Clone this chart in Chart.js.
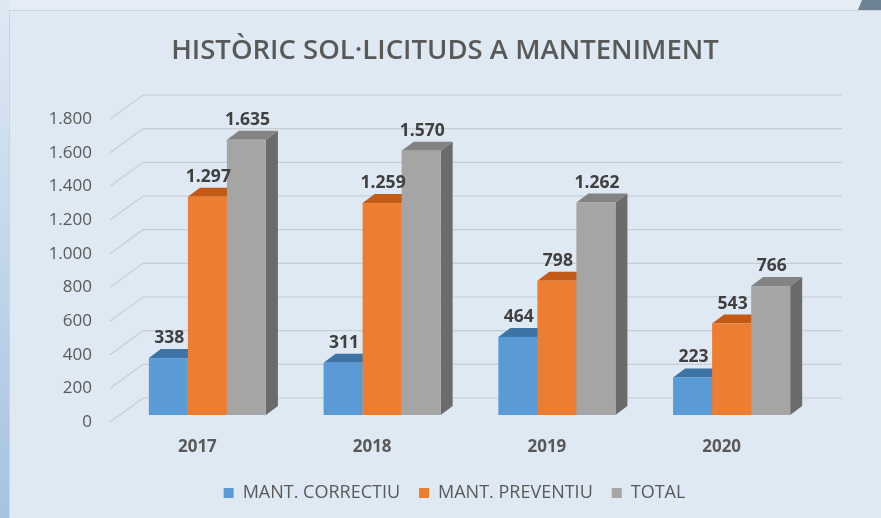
<!DOCTYPE html>
<html><head><meta charset="utf-8">
<script src="https://cdn.jsdelivr.net/npm/chart.js@4.4.0/dist/chart.umd.min.js"></script>
<style>
html,body{margin:0;padding:0;width:881px;height:518px;overflow:hidden;background:#e4edf6;}
#strip{position:absolute;left:0;top:0;width:9px;height:518px;background:linear-gradient(#dfe9f4,#a6c3e0);}
#frame{position:absolute;left:9px;top:10px;width:872px;height:508px;background:#dee9f4;border-left:1px solid #cbd3dc;border-top:1px solid #cbd3dc;box-sizing:border-box;}
#corner{position:absolute;left:853px;top:0;width:28px;height:10px;background:#6e8296;clip-path:polygon(9px 0,28px 0,28px 10px,5px 10px);}
canvas{position:absolute;left:0;top:0;}
</style></head><body>
<div id="strip"></div><div id="frame"></div><div id="corner"></div>
<canvas id="c" width="881" height="518"></canvas>
<script>
const TITLE = 'HISTÒRIC SOL·LICITUDS A MANTENIMENT';
const years = ['2017', '2018', '2019', '2020'];
const seriesNames = ['MANT. CORRECTIU', 'MANT. PREVENTIU', 'TOTAL'];
const correctiu = [338, 311, 464, 223];
const preventiu = [1297, 1259, 798, 543];
const total = [1635, 1570, 1262, 766];
const yMax = 1800;
const yStep = 200;

function fmt(v){ return String(v).replace(/\B(?=(\d{3})+(?!\d))/g, '.'); }

const DX = 12, DY = 9;
const faces = [
  {front:'#5b9bd5', top:'#3e73a6', side:'#35638f'},
  {front:'#ed7d31', top:'#c35a16', side:'#a84d12'},
  {front:'#a5a5a5', top:'#838383', side:'#6b6b6b'}
];

const bars3d = {
  id:'bars3d',
  beforeDatasetsDraw(chart){
    const {ctx, chartArea:a, scales:{x, y}} = chart;
    ctx.save();
    ctx.strokeStyle = '#c6cdd5'; ctx.lineWidth = 1.2;
    y.ticks.forEach(t => {
      const py = y.getPixelForValue(t.value);
      ctx.beginPath();
      ctx.moveTo(a.left - 10, py + 7);
      ctx.lineTo(a.left + 23, py - 17);
      ctx.lineTo(a.right + 23, py - 17);
      ctx.stroke();
    });
    const metas = chart.data.datasets.map((d, i) => chart.getDatasetMeta(i));
    for (let j = 0; j < years.length; j++) {
      metas.forEach((m, i) => {
        const b = m.data[j];
        const L = b.x - b.width / 2, R = b.x + b.width / 2, T = b.y, B = b.base;
        const c = faces[i];
        ctx.fillStyle = c.side;
        ctx.beginPath(); ctx.moveTo(R, T); ctx.lineTo(R + DX, T - DY); ctx.lineTo(R + DX, B - DY); ctx.lineTo(R, B); ctx.closePath(); ctx.fill();
        ctx.fillStyle = c.top;
        ctx.beginPath(); ctx.moveTo(L, T); ctx.lineTo(L + DX, T - DY); ctx.lineTo(R + DX, T - DY); ctx.lineTo(R, T); ctx.closePath(); ctx.fill();
        ctx.fillStyle = c.front;
        ctx.fillRect(L, T, R - L, B - T);
      });
    }
    ctx.fillStyle = '#404040';
    ctx.font = 'bold 17.5px "Open Sans"';
    ctx.textAlign = 'center'; ctx.textBaseline = 'middle';
    metas.forEach((m, i) => {
      m.data.forEach((b, j) => {
        ctx.fillText(fmt(chart.data.datasets[i].data[j]), b.x + 1, b.y - 20);
      });
    });
    ctx.restore();
    return false;
  }
};

const titlePlugin = {
  id:'titleText',
  afterDraw(chart){
    const ctx = chart.ctx;
    ctx.save();
    ctx.fillStyle = '#595959';
    ctx.font = '600 27.5px "Open Sans"';
    ctx.textAlign = 'center'; ctx.textBaseline = 'middle';
    ctx.fillText(TITLE, 445, 51);
    ctx.restore();
  }
};

new Chart(document.getElementById('c'), {
  type:'bar',
  data:{
    labels: years,
    datasets:[
      {label: seriesNames[0], data: correctiu, backgroundColor:'#5b9bd5'},
      {label: seriesNames[1], data: preventiu, backgroundColor:'#ed7d31'},
      {label: seriesNames[2], data: total, backgroundColor:'#a5a5a5'}
    ]
  },
  options:{
    responsive:false, animation:false,
    layout:{padding:{left:28, right:0, top:112, bottom:6}},
    datasets:{bar:{categoryPercentage:0.67, barPercentage:1}},
    plugins:{
      title:{display:false},
      tooltip:{enabled:false},
      legend:{position:'bottom', labels:{boxWidth:10, boxHeight:10, padding:19, color:'#595959', font:{family:'"Open Sans"', size:18}}}
    },
    scales:{
      x:{
        grid:{display:false, drawTicks:false}, border:{display:false},
        ticks:{color:'#595959', font:{family:'"Open Sans"', size:17, weight:'bold'}, labelOffset:-10, padding:22},
        afterFit(s){ s.height = 518 - 6 - s.chart.legend.height - 415; }
      },
      y:{
        min:0, max:yMax,
        grid:{display:false, drawTicks:false}, border:{display:false},
        ticks:{stepSize:yStep, color:'#595959', font:{family:'"Open Sans"', size:17}, labelOffset:7, padding:28, callback:v => fmt(v)},
        afterFit(s){ s.width = 92; }
      },
      yRight:{
        position:'right', min:0, max:yMax,
        grid:{display:false, drawTicks:false}, border:{display:false},
        ticks:{display:false},
        afterFit(s){ s.width = 62; }
      }
    }
  },
  plugins:[bars3d, titlePlugin]
});
</script>
</body></html>
